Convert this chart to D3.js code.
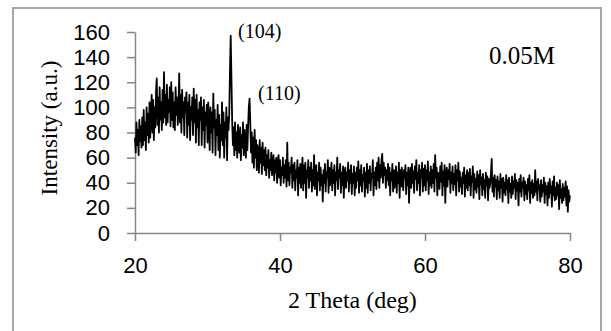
<!DOCTYPE html>
<html>
<head>
<meta charset="utf-8">
<script src="https://cdn.jsdelivr.net/npm/d3@7/dist/d3.min.js"></script>
<style>
  html, body { margin: 0; padding: 0; background: #fff; }
  svg { display: block; }
</style>
</head>
<body>
<script>
// XRD scan, 2θ from 20° to 80° in 0.1° steps
const thetaStart = 20;
const thetaStep = 0.1;
const intensity = [
  76, 64, 88, 70, 82, 62, 90, 73, 85, 68,      // 20
  92, 70, 98, 74, 88, 66, 100, 78, 95, 72,     // 21
  104, 76, 96, 110, 80, 106, 74, 100, 84, 112, // 22
  123, 86, 108, 80, 116, 90, 104, 82, 114, 88, // 23
  128, 92, 110, 86, 118, 88, 106, 96, 116, 85, // 24
  120, 90, 112, 84, 104, 82, 116, 94, 108, 86, // 25
  100, 127, 88, 110, 80, 114, 92, 104, 78, 108,// 26
  96, 112, 76, 104, 86, 110, 74, 100, 90, 108, // 27
  78, 115, 88, 106, 72, 110, 84, 98, 70, 104,  // 28
  90, 108, 70, 100, 82, 106, 68, 96, 86, 102,  // 29
  72, 104, 88, 66, 100, 80, 96, 64, 111, 84,   // 30
  98, 62, 90, 78, 102, 66, 94, 60, 86, 74,     // 31
  104, 70, 96, 60, 88, 76, 100, 58, 92, 82,    // 32
  95, 130, 157, 124, 90, 70, 84, 62, 88, 66,   // 33
  80, 60, 86, 70, 64, 84, 58, 78, 68, 88,      // 34
  62, 82, 72, 60, 86, 66, 85, 100, 107, 88,    // 35
  64, 80, 56, 76, 52, 82, 60, 74, 50, 70,      // 36
  62, 48, 74, 56, 68, 47, 72, 54, 66, 50,      // 37
  68, 46, 62, 52, 66, 44, 58, 50, 64, 46,      // 38
  56, 62, 42, 58, 48, 60, 40, 54, 62, 44,      // 39
  58, 38, 52, 46, 60, 40, 54, 44, 58, 37,      // 40
  72, 42, 56, 38, 52, 48, 60, 36, 54, 42,      // 41
  56, 34, 50, 44, 58, 30, 52, 40, 55, 36,      // 42
  48, 60, 34, 54, 40, 56, 28, 50, 44, 58,      // 43
  36, 52, 42, 56, 33, 50, 38, 62, 35, 48,      // 44
  54, 30, 48, 42, 56, 34, 52, 38, 46, 25,      // 45
  50, 40, 55, 33, 48, 44, 58, 32, 52, 38,      // 46
  46, 56, 34, 50, 40, 54, 30, 48, 42, 60,      // 47
  35, 50, 44, 55, 32, 48, 38, 53, 28, 46,      // 48
  52, 36, 48, 42, 56, 33, 50, 40, 54, 31,      // 49
  47, 40, 53, 30, 48, 36, 52, 42, 57, 32,      // 50
  50, 38, 54, 33, 46, 42, 52, 29, 48, 36,      // 51
  55, 32, 50, 40, 53, 34, 47, 44, 58, 30,      // 52
  48, 38, 52, 35, 56, 42, 60, 36, 54, 44,      // 53
  58, 63, 40, 56, 46, 52, 36, 50, 42, 55,      // 54
  38, 52, 30, 48, 42, 55, 33, 50, 36, 46,      // 55
  53, 32, 48, 40, 56, 28, 50, 37, 52, 42,      // 56
  34, 50, 44, 54, 31, 48, 38, 52, 24, 46,      // 57
  52, 36, 55, 40, 49, 32, 53, 43, 58, 34,      // 58
  48, 40, 54, 30, 50, 44, 56, 33, 51, 38,      // 59
  54, 34, 50, 42, 57, 31, 48, 38, 53, 36,      // 60
  50, 40, 55, 33, 62, 44, 52, 30, 48, 42,      // 61
  35, 53, 41, 56, 30, 49, 38, 54, 24, 47,      // 62
  52, 37, 50, 43, 55, 32, 48, 40, 53, 34,      // 63
  47, 39, 54, 30, 50, 42, 56, 33, 49, 37,      // 64
  44, 31, 48, 40, 52, 29, 46, 36, 50, 34,      // 65
  48, 38, 51, 30, 45, 41, 53, 28, 47, 35,      // 66
  43, 32, 49, 37, 46, 27, 50, 39, 44, 30,      // 67
  47, 35, 42, 28, 48, 38, 45, 26, 43, 36,      // 68
  40, 48, 59, 33, 44, 29, 46, 37, 42, 27,      // 69
  45, 34, 41, 28, 47, 36, 43, 25, 44, 32,      // 70
  40, 30, 46, 35, 42, 24, 44, 33, 39, 28,      // 71
  45, 31, 41, 36, 47, 27, 42, 34, 40, 22,      // 72
  43, 33, 46, 29, 40, 36, 44, 26, 41, 31,      // 73
  38, 27, 43, 34, 46, 24, 40, 32, 42, 28,      // 74
  39, 30, 50, 33, 41, 26, 43, 35, 38, 25,      // 75
  42, 29, 38, 33, 44, 24, 40, 31, 37, 22,      // 76
  40, 28, 43, 32, 37, 21, 41, 30, 45, 26,      // 77
  36, 27, 40, 30, 38, 19, 42, 28, 35, 24,      // 78
  39, 26, 36, 29, 41, 22, 37, 17, 34, 25,      // 79
  30                                           // 80
];

const xTicks = [20, 40, 60, 80];
const yTicks = [0, 20, 40, 60, 80, 100, 120, 140, 160];

// Reflection labels
const peakLabels = ["(104)", "(110)"];
const sampleLabel = "0.05M";

const W = 611, H = 331;
const svg = d3.select("body").append("svg")
  .attr("width", W).attr("height", H);

// chart frame
svg.append("rect")
  .attr("x", 13).attr("y", 8)
  .attr("width", 588).attr("height", 340)
  .attr("fill", "none")
  .attr("stroke", "#a6a6a6")
  .attr("stroke-width", 2);

const x = d3.scaleLinear().domain([20, 80]).range([135, 570]);
const y = d3.scaleLinear().domain([0, 160]).range([233, 32]);

const axisColor = "#868686";
const tickFont = "'Liberation Sans', Arial, sans-serif";
const serif = "'Liberation Serif', 'Times New Roman', serif";

// y axis
const gy = svg.append("g")
  .attr("transform", `translate(${x(20)},0)`)
  .call(d3.axisLeft(y).tickValues(yTicks).tickSize(8).tickPadding(17).tickSizeOuter(0));
// x axis
const gx = svg.append("g")
  .attr("transform", `translate(0,${y(0)})`)
  .call(d3.axisBottom(x).tickValues(xTicks).tickSize(8).tickPadding(16).tickSizeOuter(0));

[gx, gy].forEach(g => {
  g.select(".domain").attr("stroke", axisColor).attr("stroke-width", 1.5);
  g.selectAll(".tick line").attr("stroke", axisColor).attr("stroke-width", 1.5);
  g.selectAll(".tick text")
    .attr("fill", "#000")
    .style("font-family", tickFont)
    .style("font-size", "22px");
});

// diffraction pattern
const pts = intensity.map((v, i) => [thetaStart + i * thetaStep, v]);
const line = d3.line().x(d => x(d[0])).y(d => y(d[1]));
svg.append("path")
  .datum(pts)
  .attr("fill", "none")
  .attr("stroke", "#000")
  .attr("stroke-width", 1.8)
  .attr("stroke-linejoin", "round")
  .attr("d", line);

// peak labels
svg.append("text")
  .attr("x", 238).attr("y", 38)
  .style("font-family", serif).style("font-size", "20px")
  .text(peakLabels[0]);
svg.append("text")
  .attr("x", 258).attr("y", 100)
  .style("font-family", serif).style("font-size", "20px")
  .text(peakLabels[1]);

svg.append("text")
  .attr("x", 489).attr("y", 64)
  .style("font-family", serif).style("font-size", "25px")
  .text(sampleLabel);

// axis titles
svg.append("text")
  .attr("x", 288).attr("y", 308)
  .style("font-family", serif).style("font-size", "24px")
  .text("2 Theta (deg)");

svg.append("text")
  .attr("transform", "translate(57,128) rotate(-90)")
  .attr("text-anchor", "middle")
  .style("font-family", serif).style("font-size", "23px")
  .text("Intensity (a.u.)");
</script>
</body>
</html>
